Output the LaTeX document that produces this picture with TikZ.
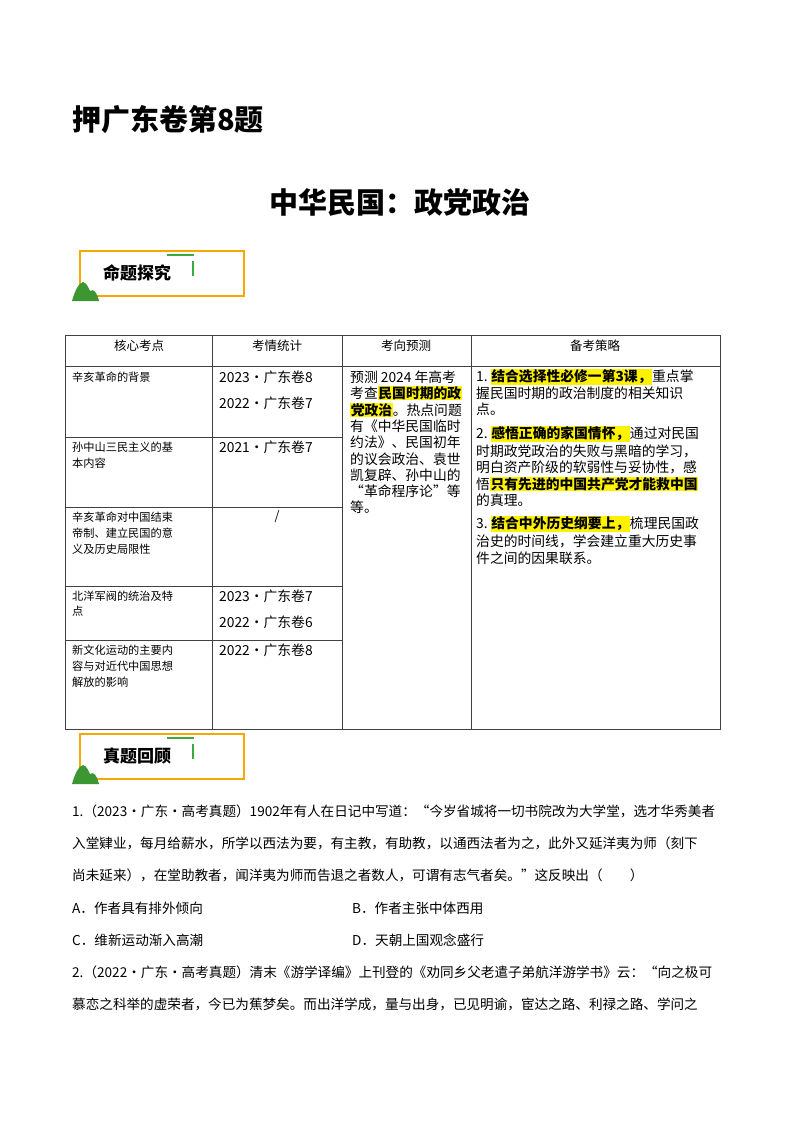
\documentclass[tikz,border=0pt]{standalone}
\usepackage{fontspec}
\setmainfont{Noto Sans CJK SC}
\begin{document}
\begin{tikzpicture}[x=1pt,y=-1pt,
  t/.style={anchor=west,inner sep=0pt,font=\fontsize{11.2}{12}\selectfont},
  w/.style={anchor=west,inner sep=0pt,font=\fontsize{13.8}{14}\selectfont},
  q/.style={anchor=west,inner sep=0pt,font=\fontsize{13.6}{14}\selectfont},
  hd/.style={inner sep=0pt,font=\fontsize{12.5}{12}\selectfont},
  grid/.style={draw=black!75,line width=0.7pt},
  badge/.style={draw={rgb,255:red,247;green,168;blue,0},line width=2.6pt},
  gr/.style={draw={rgb,255:red,60;green,170;blue,60},line width=1.4pt},
  mt/.style={fill={rgb,255:red,60;green,150;blue,50}}]
\newcommand{\hl}[1]{{\setlength\fboxsep{0.6pt}\colorbox{yellow}{\bfseries #1}}}
\useasboundingbox[fill=white] (0,0) rectangle (800,1132);
\node[anchor=west,inner sep=0pt,font=\fontsize{29}{29}\selectfont\bfseries] (h1) at (72,120) {押广东卷第8题};
\node[inner sep=0pt,font=\fontsize{29}{29}\selectfont\bfseries] (h2) at (400,203) {中华民国：政党政治};
% badges
\foreach \yy/\txt [count=\i] in {0/命题探究,483/真题回顾}{
  \begin{scope}[yshift=-\yy]
  \draw[badge] (80,251) rectangle (244,296);
  \draw[gr] (167,255) -- (194,255);
  \draw[gr] (193,261) -- (193,276);
  \fill[mt] (72,301) .. controls (75,290) and (79,283) .. (83,282) .. controls (87,283) and (89,289) .. (90,291) .. controls (94,288) and (97,293) .. (99,301) -- cycle;
  \node[inner sep=0pt,font=\fontsize{17}{17}\selectfont\bfseries] (b\i) at (137,273) {\txt};
  \end{scope}}
% table
\draw[grid] (65,335) rectangle (720,729);
\draw[grid] (65,366) -- (720,366);
\foreach \x in {212,342,471} \draw[grid] (\x,335) -- (\x,729);
\foreach \yy in {437,507,586,640} \draw[grid] (65,\yy) -- (342,\yy);
\node[hd] (c1) at (139,346) {核心考点};
\node[hd] (c2) at (277,346) {考情统计};
\node[hd] (c3) at (406,346) {考向预测};
\node[hd] (c4) at (595,346) {备考策略};
% col1
\node[t] (a1) at (72,377) {辛亥革命的背景};
\node[t] (a2) at (72,447) {孙中山三民主义的基};
\node[t] (a3) at (72,463) {本内容};
\node[t] (a4) at (72,517) {辛亥革命对中国结束};
\node[t] (a5) at (72,533) {帝制、建立民国的意};
\node[t] (a6) at (72,549) {义及历史局限性};
\node[t] (a7) at (72,596) {北洋军阀的统治及特};
\node[t] (a8) at (72,611) {点};
\node[t] (a9) at (72,650) {新文化运动的主要内};
\node[t] (a10) at (72,666) {容与对近代中国思想};
\node[t] (a11) at (72,682) {解放的影响};
% col2
\node[w] (s1) at (219,377) {2023·广东卷8};
\node[w] (s2) at (219,403) {2022·广东卷7};
\node[w] (s3) at (219,447) {2021·广东卷7};
\node[hd] (s4) at (277,517) {/};
\node[w] (s5) at (219,596) {2023·广东卷7};
\node[w] (s6) at (219,622) {2022·广东卷6};
\node[w] (s7) at (219,650) {2022·广东卷8};
% col3
\node[w] (p1) at (350,377) {预测 2024 年高考};
\node[w] (p2) at (350,393) {考查\hl{民国时期的政}};
\node[w] (p3) at (350,410) {\hl{党政治}。热点问题};
\node[w] (p4) at (350,426) {有《中华民国临时};
\node[w] (p5) at (350,442) {约法》、民国初年};
\node[w] (p6) at (350,459) {的议会政治、袁世};
\node[w] (p7) at (350,475) {凯复辟、孙中山的};
\node[w] (p8) at (350,491) {“革命程序论”等};
\node[w] (p9) at (350,507) {等。};
% col4
\node[w] (r1) at (476,377) {1.\ \hl{结合选择性必修一第3课，}重点掌};
\node[w] (r2) at (476,393) {握民国时期的政治制度的相关知识};
\node[w] (r3) at (476,409) {点。};
\node[w] (r4) at (476,434) {2.\ \hl{感悟正确的家国情怀，}通过对民国};
\node[w] (r5) at (476,451) {时期政党政治的失败与黑暗的学习，};
\node[w] (r6) at (476,467) {明白资产阶级的软弱性与妥协性，感};
\node[w] (r7) at (476,484) {悟\hl{只有先进的中国共产党才能救中国}};
\node[w] (r8) at (476,500) {的真理。};
\node[w] (r9) at (476,524) {3.\ \hl{结合中外历史纲要上，}梳理民国政};
\node[w] (r10) at (476,541) {治史的时间线，学会建立重大历史事};
\node[w] (r11) at (476,558) {件之间的因果联系。};
% questions
\node[q] (q1) at (72,811) {1.（2023·广东·高考真题）1902年有人在日记中写道：“今岁省城将一切书院改为大学堂，选才华秀美者};
\node[q] (q2) at (72,843) {入堂肄业，每月给薪水，所学以西法为要，有主教，有助教，以通西法者为之，此外又延洋夷为师（刻下};
\node[q] (q3) at (72,875) {尚未延来），在堂助教者，闻洋夷为师而告退之者数人，可谓有志气者矣。”这反映出（　　）};
\node[q] (oA) at (72,908) {A．作者具有排外倾向};
\node[q] (oB) at (352,908) {B．作者主张中体西用};
\node[q] (oC) at (72,940) {C．维新运动渐入高潮};
\node[q] (oD) at (352,940) {D．天朝上国观念盛行};
\node[q] (q4) at (72,972) {2.（2022·广东·高考真题）清末《游学译编》上刊登的《劝同乡父老遣子弟航洋游学书》云：“向之极可};
\node[q] (q5) at (72,1004) {慕恋之科举的虚荣者，今已为蕉梦矣。而出洋学成，量与出身，已见明谕，宦达之路、利禄之路、学问之};
\end{tikzpicture}
\end{document}
